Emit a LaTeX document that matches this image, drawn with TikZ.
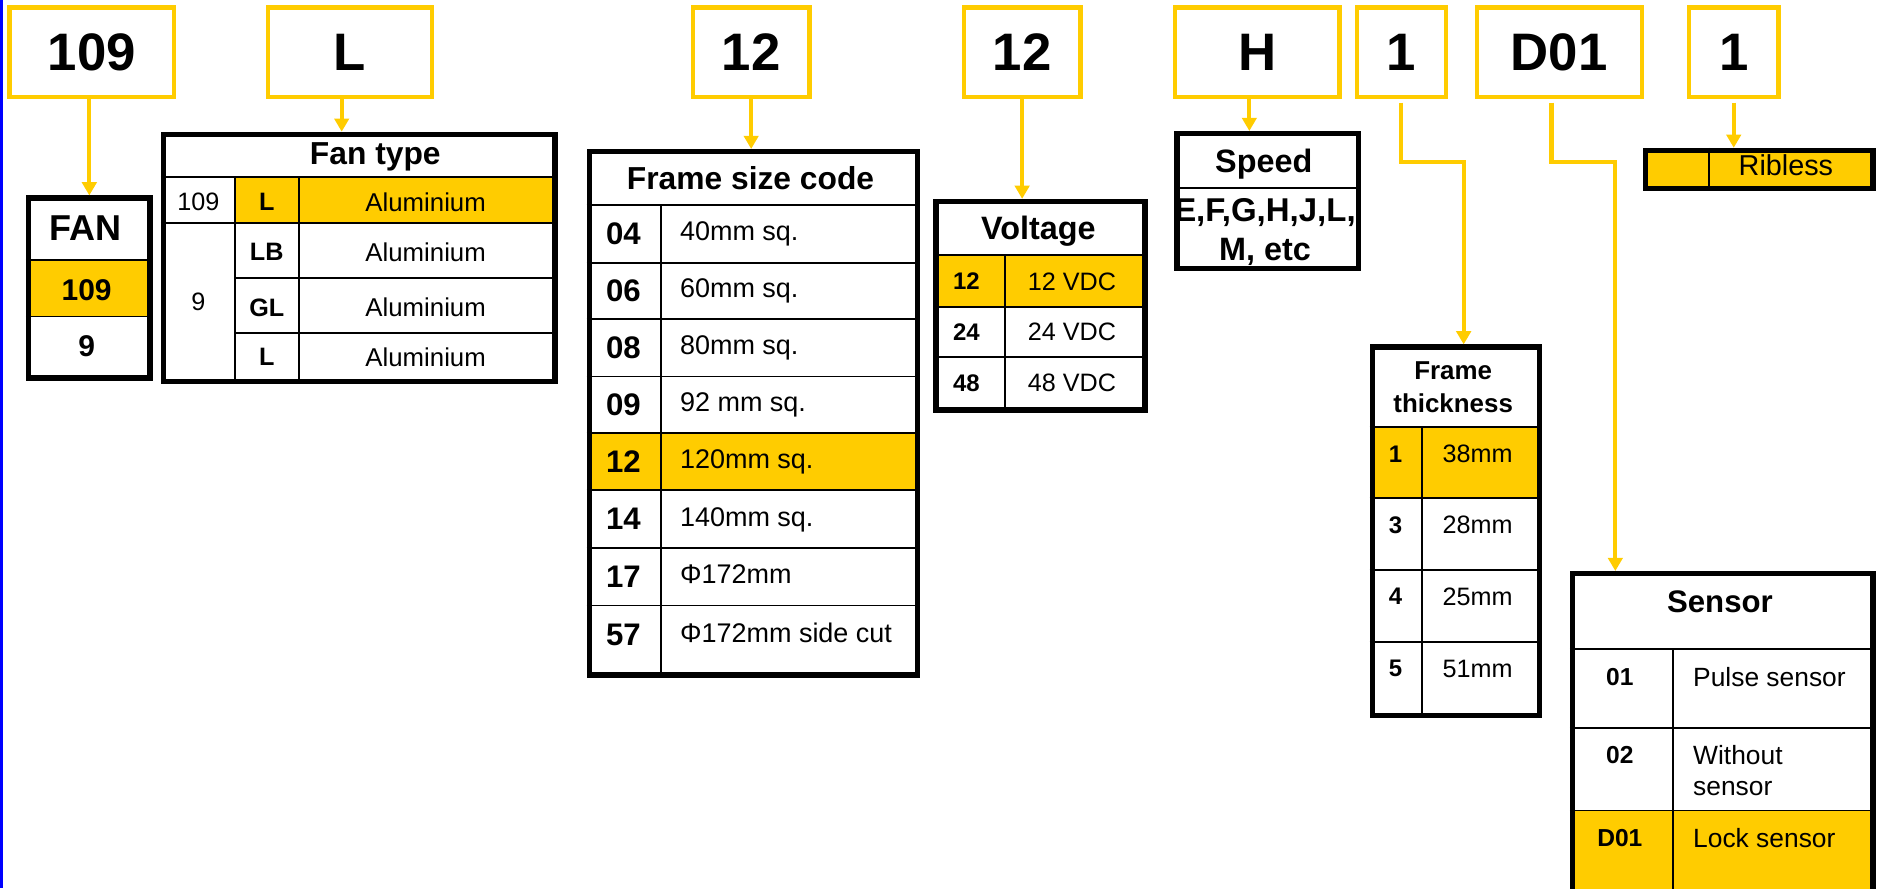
\documentclass[tikz,border=0pt]{standalone}
\usepackage{fontspec}
\setmainfont{Liberation Sans}
\usetikzlibrary{arrows.meta,positioning}
\definecolor{fanyellow}{HTML}{FFCC00}
\definecolor{edgeblue}{HTML}{0000FF}
\newcommand{\fontpt}[1]{\fontsize{#1}{#1}\selectfont}

\begin{document}
\begin{tikzpicture}[x=1pt,y=-1pt,
codebox/.style={draw=fanyellow,line width=3.6pt,minimum height=74.4pt,
inner sep=0pt,font=\fontpt{44}\bfseries},
tabframe/.style={draw,line width=4.5pt,anchor=north west,inner sep=0pt},
tabrule/.style={line width=1.6pt},
arr/.style={fanyellow,line width=3.5pt,-{Triangle[width=12pt,length=11pt]}},
lbl/.style={inner sep=0pt,text depth=0pt,execute at begin node={\vphantom{H}}},
headtxt/.style={lbl,font=\fontpt{27}\bfseries},
codetxt/.style={lbl,font=\fontpt{21}\bfseries},
desctxt/.style={lbl,font=\fontpt{21.5}}
]
\useasboundingbox (0,0) rectangle (1568,741);
\clip (0,0) rectangle (1568,741);
\draw[edgeblue,line width=2.2pt] (1.1,0) -- (1.1,741);

\node[codebox,minimum width=137.4pt] (c109)    at (76.5,43.5)   {109};
\node[codebox,minimum width=136.4pt] (cL)      at (292,43.5)    {L};
\node[codebox,minimum width=97.4pt]  (csize)   at (626.5,43.5)  {12};
\node[codebox,minimum width=97.4pt]  (cvolt)   at (852.5,43.5)  {12};
\node[codebox,minimum width=137.4pt] (cspeed)  at (1048.5,43.5) {H};
\node[codebox,minimum width=73.9pt]  (cthick)  at (1168.8,43.5) {1};
\node[codebox,minimum width=137.4pt] (csensor) at (1300.5,43.5) {D01};
\node[codebox,minimum width=74.6pt]  (crib)    at (1446,43.5)   {1};

\fill[fanyellow] (21.5,216.7) rectangle (123,264);
\draw[tabrule] (21.5,216.7) -- (123,216.7) (21.5,264) -- (123,264);
\node[tabframe,minimum width=101.5pt,minimum height=150pt] (fan) at (21.5,163) {};
\node[headtxt,font=\fontpt{30}\bfseries] (fanhead) at (71.5,190) {FAN};
\node[headtxt,font=\fontpt{25}\bfseries] (fan109) at (72.25,241.7) {109};
\node[headtxt,font=\fontpt{25}\bfseries] (fan9) at (72.25,289) {9};

\fill[fanyellow] (196,148) rectangle (460.75,186);
\draw[tabrule] (134.25,148) -- (460.75,148) (134.25,186) -- (460.75,186)
(196,231.5) -- (460.75,231.5) (196,277.6) -- (460.75,277.6)
(196,148) -- (196,315.75) (249,148) -- (249,315.75);
\node[tabframe,minimum width=326.5pt,minimum height=205.9pt] (fantype) at (134.25,109.85) {};
\node[headtxt,font=\fontpt{26.5}\bfseries] (typehead) at (313,128) {Fan type};
\node[desctxt,font=\fontpt{21}] (type109) at (165.5,168.6) {109};
\node[desctxt,font=\fontpt{21}] (type9) at (165.5,252) {9};
\foreach \y/\code [count=\i] in {168.6/L,210/LB,256.5/GL,297.8/L}{
\node[codetxt] (typecode\i) at (222.5,\y) {\code};
\node[desctxt] (typedesc\i) at (355,\y) {Aluminium};
}

\fill[fanyellow] (489.25,361) rectangle (762.75,409);
\draw[tabrule] (551,171) -- (551,560.75);
\foreach \y in {171,219,266,314,361,409,457,505}
\draw[tabrule] (489.25,\y) -- (762.75,\y);
\node[tabframe,minimum width=273.5pt,minimum height=436.5pt] (sizetab) at (489.25,124.25) {};
\node[headtxt,font=\fontpt{26.5}\bfseries] (sizehead) at (626,148.2) {Frame size code};
\foreach \y/\code/\desc [count=\i] in {195/04/40mm sq.,242.5/06/60mm sq.,
290/08/80mm sq.,337.5/09/92 mm sq.,385/12/120mm sq.,433/14/140mm sq.,
481/17/Φ172mm,529.5/57/Φ172mm side cut}{
\node[codetxt,font=\fontpt{26}\bfseries] (sizecode\i) at (520,\y) {\code};
\node[desctxt,font=\fontpt{22.5},anchor=west] (sizedesc\i) at (567,\y-2) {\desc};
}

\fill[fanyellow] (778.25,213) rectangle (952.75,256);
\draw[tabrule] (778.25,213) -- (952.75,213) (778.25,256) -- (952.75,256)
(778.25,298) -- (952.75,298) (838,213) -- (838,339.75);
\node[tabframe,minimum width=174.5pt,minimum height=173.9pt] (volt) at (778.25,165.85) {};
\node[headtxt] (volthead) at (866,190) {Voltage};
\foreach \y/\volts [count=\i] in {234.6/12,276.7/24,319.6/48}{
\node[codetxt,font=\fontpt{20}\bfseries] (voltcode\i) at (806,\y) {\volts};
\node[desctxt,font=\fontpt{21}] (voltdesc\i) at (894,\y) {\volts{} VDC};
}

\draw[tabrule] (979.25,157) -- (1130.75,157);
\node[tabframe,minimum width=151.5pt,minimum height=112.5pt] (speed) at (979.25,109.25) {};
\node[headtxt] (speedhead) at (1054,134.4) {Speed};
\node[headtxt,font=\fontpt{27.5}\bfseries] (speedlist1) at (1055,175.5) {E,F,G,H,J,L,};
\node[headtxt] (speedlist2) at (1055,208) {M, etc};

\fill[fanyellow] (1370.25,123.25) rectangle (1559.75,154.75);
\draw[tabrule] (1425,123.25) -- (1425,154.75);
\node[tabframe,minimum width=189.5pt,minimum height=31.5pt] (rib) at (1370.25,123.25) {};
\node[desctxt,font=\fontpt{24}] (ribtxt) at (1489.5,137.5) {Ribless};

\fill[fanyellow] (1142.25,356) rectangle (1281.75,415.7);
\draw[tabrule] (1186,356) -- (1186,594.75);
\foreach \y in {356,415.7,475.6,535.5}
\draw[tabrule] (1142.25,\y) -- (1281.75,\y);
\node[tabframe,minimum width=139.5pt,minimum height=307.5pt] (thick) at (1142.25,287.25) {};
\node[headtxt,font=\fontpt{21.6}\bfseries] (thickhead1) at (1212,309.4) {Frame};
\node[headtxt,font=\fontpt{21.6}\bfseries] (thickhead2) at (1212,335.8) {thickness};
\foreach \y/\code/\desc [count=\i] in {378.8/1/38mm,437.8/3/28mm,497.6/4/25mm,557.5/5/51mm}{
\node[codetxt,font=\fontpt{20}\bfseries] (thickcode\i) at (1164,\y) {\code};
\node[desctxt,font=\fontpt{21},anchor=west] (thickdesc\i) at (1203,\y) {\desc};
}

\fill[fanyellow] (1309.25,676) rectangle (1559.75,800);
\draw[tabrule] (1395,541) -- (1395,800);
\foreach \y in {541,607,676}
\draw[tabrule] (1309.25,\y) -- (1559.75,\y);
\node[tabframe,minimum width=250.5pt,minimum height=323.75pt] (sensor) at (1309.25,476.25) {};
\node[headtxt,font=\fontpt{26}\bfseries] (sensorhead) at (1434.5,502) {Sensor};
\foreach \y/\code [count=\i] in {564.5/01,630/02,699/D01}
\node[codetxt,font=\fontpt{20.5}\bfseries] (sensorcode\i) at (1351,\y) {\code};
\foreach \y/\desc [count=\i] in {564.5/Pulse sensor,630/Without,656/sensor,699/Lock sensor}
\node[desctxt,font=\fontpt{22},anchor=west] (sensordesc\i) at (1412,\y) {\desc};

\draw[arr] (fan.north |- c109.south) -- (fan.north);
\draw[arr] ([xshift=-7pt]cL.south) -- ([xshift=-7pt]cL.south |- fantype.north);
\draw[arr] (csize.south) -- (csize.south |- sizetab.north);
\draw[arr] (cvolt.south) -- (cvolt.south |- volt.north);
\draw[arr] ([xshift=-6.5pt]cspeed.south) -- ([xshift=-6.5pt]cspeed.south |- speed.north);
\draw[arr,shorten <=3pt] (cthick.south) -- ++(0,52.3) -| ([xshift=6.5pt]thick.north);
\draw[arr,shorten <=3pt] ([xshift=-6.5pt]csensor.south) -- ++(0,52.3) -| ([xshift=-89.5pt]sensor.north);
\draw[arr,shorten <=3pt] (crib.south) -- (crib.south |- rib.north);
\end{tikzpicture}
\end{document}
